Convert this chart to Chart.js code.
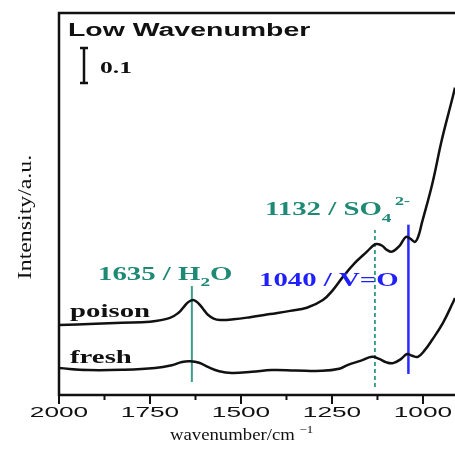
<!DOCTYPE html>
<html>
<head>
<meta charset="utf-8">
<script src="https://cdn.jsdelivr.net/npm/chart.js@4"></script>
<style>
  html, body { margin: 0; padding: 0; background: #fff; }
  #wrap { width: 455px; height: 449px; position: relative; }
</style>
</head>
<body>
<div id="wrap"><canvas id="mainChart"></canvas></div>
<script>
// spectra (wavenumber / intensity in a.u.)
const poisonWn  = [2000, 1900, 1827, 1750, 1695, 1670, 1659, 1645, 1632, 1622, 1613, 1600, 1591, 1575, 1558, 1520, 1475, 1420, 1365, 1319, 1275, 1247, 1220, 1187, 1154, 1135, 1126, 1112, 1099, 1085, 1065, 1047, 1035, 1022, 1012, 1003, 975, 948, 920, 912];
const poisonVal = [0.200, 0.203, 0.206, 0.209, 0.220, 0.236, 0.249, 0.265, 0.271, 0.266, 0.257, 0.240, 0.229, 0.218, 0.214, 0.216, 0.222, 0.231, 0.240, 0.249, 0.271, 0.300, 0.337, 0.377, 0.409, 0.428, 0.431, 0.426, 0.414, 0.409, 0.425, 0.451, 0.446, 0.437, 0.455, 0.491, 0.600, 0.729, 0.843, 0.877];

const freshWn  = [2000, 1920, 1820, 1736, 1690, 1662, 1640, 1615, 1591, 1560, 1525, 1470, 1415, 1350, 1277, 1230, 1206, 1170, 1140, 1120, 1100, 1082, 1060, 1044, 1030, 1014, 995, 975, 945, 918, 912];
const freshVal = [0.077, 0.071, 0.072, 0.077, 0.085, 0.094, 0.096, 0.092, 0.080, 0.068, 0.063, 0.066, 0.071, 0.070, 0.069, 0.075, 0.086, 0.098, 0.109, 0.103, 0.093, 0.091, 0.103, 0.117, 0.112, 0.109, 0.128, 0.157, 0.206, 0.263, 0.277];

// marker lines: position, bottom, top
const markerWn  = [1635, 1132, 1040];
const markerLo  = [0.037, 0.023, 0.060];
const markerHi  = [0.311, 0.471, 0.486];

const majorTicks = [2000, 1750, 1500, 1250, 1000];
const minorTicks = [1875, 1625, 1375, 1125];

const TEAL = '#1e8a76';
const BLUE = '#1f1fff';

function pts(xs, ys) {
    return xs.map((x, i) => ({ x: x, y: ys[i] }));
}

// text is horizontally stretched in the original figure
function drawRich(ctx, x, y, parts, sx, color, align) {
    ctx.save();
    ctx.fillStyle = color;
    ctx.textBaseline = 'alphabetic';
    ctx.textAlign = 'left';
    let total = 0;
    parts.forEach(p => {
        ctx.font = p.font;
        total += ctx.measureText(p.t).width * sx;
    });
    let cx = align === 'center' ? x - total / 2 : x;
    parts.forEach(p => {
        ctx.font = p.font;
        ctx.save();
        ctx.translate(cx, y + (p.dy || 0));
        ctx.scale(sx, 1);
        ctx.fillText(p.t, 0, 0);
        ctx.restore();
        cx += ctx.measureText(p.t).width * sx;
    });
    ctx.restore();
}

const serifB = s => `bold ${s}px "Liberation Serif", "DejaVu Serif", serif`;

const decor = {
    id: 'decor',
    afterDraw(chart) {
        const ctx = chart.ctx;
        const a = chart.chartArea;
        const xs = chart.scales.x;
        const ys = chart.scales.y;

        // frame (right side runs off the picture)
        ctx.save();
        ctx.strokeStyle = '#111';
        ctx.lineWidth = 2.5;
        ctx.beginPath();
        ctx.moveTo(a.right + 5, a.top);
        ctx.lineTo(a.left, a.top);
        ctx.lineTo(a.left, a.bottom);
        ctx.lineTo(a.right + 5, a.bottom);
        ctx.stroke();

        // ticks
        ctx.lineWidth = 2;
        majorTicks.forEach(v => {
            const px = xs.getPixelForValue(v);
            ctx.beginPath();
            ctx.moveTo(px, a.bottom);
            ctx.lineTo(px, a.bottom + 9);
            ctx.stroke();
        });
        minorTicks.forEach(v => {
            const px = xs.getPixelForValue(v);
            ctx.beginPath();
            ctx.moveTo(px, a.bottom);
            ctx.lineTo(px, a.bottom + 5);
            ctx.stroke();
        });
        ctx.restore();

        majorTicks.forEach(v => {
            drawRich(ctx, xs.getPixelForValue(v), 417,
                [{ t: String(v), font: '15px "Liberation Sans", Arial, sans-serif' }], 1.75, '#111', 'center');
        });

        // axis titles
        const rf = '16px "Liberation Serif", "DejaVu Serif", serif';
        drawRich(ctx, 170, 440, [
            { t: 'wavenumber/cm ', font: rf },
            { t: '\u22121', font: '11px "Liberation Serif", serif', dy: -7 }
        ], 1.17, '#111', 'left');

        ctx.save();
        ctx.translate(31, 217);
        ctx.rotate(-Math.PI / 2);
        ctx.scale(1.4, 1.05);
        ctx.font = '17px "Liberation Serif", "DejaVu Serif", serif';
        ctx.fillStyle = '#111';
        ctx.textAlign = 'center';
        ctx.fillText('Intensity/a.u.', 0, 0);
        ctx.restore();

        // panel title
        drawRich(ctx, 68, 36, [{ t: 'Low Wavenumber', font: 'bold 18px "Liberation Sans", Arial, sans-serif' }], 1.58, '#111', 'left');

        // 0.1 a.u. scale bar
        const barX = 84;
        const barTop = 48;
        const barLen = ys.getPixelForValue(0) - ys.getPixelForValue(0.1);
        ctx.save();
        ctx.strokeStyle = '#111';
        ctx.lineWidth = 2.5;
        ctx.beginPath();
        ctx.moveTo(barX, barTop);
        ctx.lineTo(barX, barTop + barLen);
        ctx.moveTo(barX - 4, barTop);
        ctx.lineTo(barX + 4, barTop);
        ctx.moveTo(barX - 4, barTop + barLen);
        ctx.lineTo(barX + 4, barTop + barLen);
        ctx.stroke();
        ctx.restore();
        drawRich(ctx, 100, 73, [{ t: '0.1', font: serifB(16) }], 1.6, '#111', 'left');

        // series labels
        drawRich(ctx, 70, 317, [{ t: 'poison', font: serifB(18) }], 1.6, '#111', 'left');
        drawRich(ctx, 70, 363, [{ t: 'fresh', font: serifB(18) }], 1.6, '#111', 'left');

        // band labels
        drawRich(ctx, 98, 280, [
            { t: '1635 / H', font: serifB(18) },
            { t: '2', font: serifB(12), dy: 6 },
            { t: 'O', font: serifB(18) }
        ], 1.6, TEAL, 'left');
        drawRich(ctx, 265, 215, [
            { t: '1132 / SO', font: serifB(18) },
            { t: '4', font: serifB(12), dy: 7 }
        ], 1.6, TEAL, 'left');
        drawRich(ctx, 395, 205, [{ t: '2-', font: serifB(12) }], 1.5, TEAL, 'left');
        drawRich(ctx, 259, 286, [{ t: '1040 / V=O', font: serifB(18) }], 1.6, BLUE, 'left');
    }
};

const ctx = document.getElementById('mainChart').getContext('2d');
const chart = new Chart(ctx, {
    type: 'line',
    data: {
        datasets: [
            {
                label: 'poison',
                data: pts(poisonWn, poisonVal),
                borderColor: '#111',
                borderWidth: 2.5,
                tension: 0.4,
                pointRadius: 0
            },
            {
                label: 'fresh',
                data: pts(freshWn, freshVal),
                borderColor: '#111',
                borderWidth: 2.5,
                tension: 0.4,
                pointRadius: 0
            },
            {
                label: 'H2O',
                data: [{ x: markerWn[0], y: markerLo[0] }, { x: markerWn[0], y: markerHi[0] }],
                borderColor: '#3a9e8a',
                borderWidth: 2,
                pointRadius: 0
            },
            {
                label: 'SO4',
                data: [{ x: markerWn[1], y: markerLo[1] }, { x: markerWn[1], y: markerHi[1] }],
                borderColor: '#2e9a86',
                borderWidth: 1.8,
                borderDash: [4, 3],
                pointRadius: 0
            },
            {
                label: 'V=O',
                data: [{ x: markerWn[2], y: markerLo[2] }, { x: markerWn[2], y: markerHi[2] }],
                borderColor: '#2a2aff',
                borderWidth: 2.5,
                pointRadius: 0
            }
        ]
    },
    options: {
        responsive: true,
        maintainAspectRatio: false,
        animation: false,
        layout: { padding: { left: 59, top: 13, right: 0, bottom: 54 } },
        scales: {
            x: { type: 'linear', reverse: true, min: 912, max: 2000, display: false },
            y: { type: 'linear', min: 0, max: 1.09, display: false }
        },
        plugins: {
            legend: { display: false },
            tooltip: { enabled: false }
        }
    },
    plugins: [decor]
});
</script>
</body>
</html>
